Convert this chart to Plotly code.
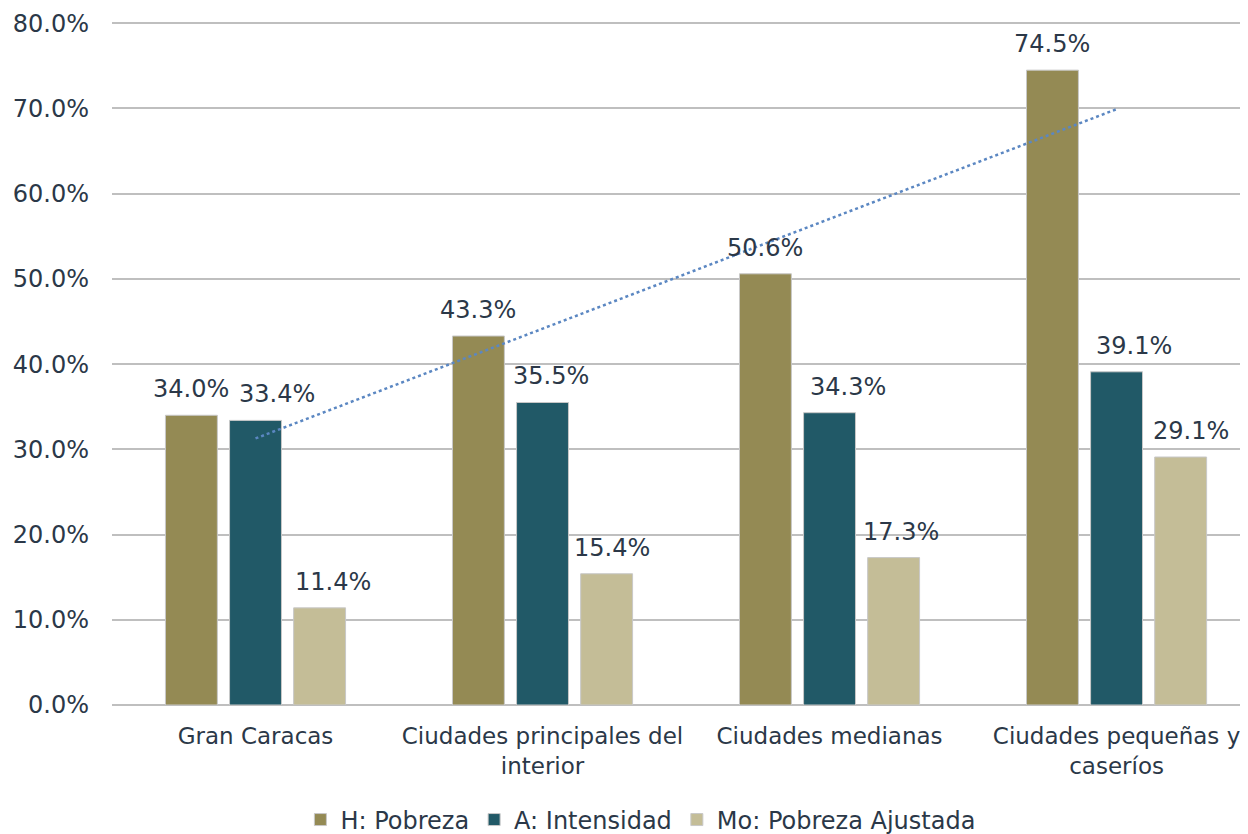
import numpy as np
import plotly.graph_objects as go

categories = ["Gran Caracas", "Ciudades principales del<br>interior", "Ciudades medianas", "Ciudades pequeñas y<br>caseríos"]
h_pobreza = [34.0, 43.3, 50.6, 74.5]
a_intensidad = [33.4, 35.5, 34.3, 39.1]
mo_ajustada = [11.4, 15.4, 17.3, 29.1]
tick_vals = [0, 10, 20, 30, 40, 50, 60, 70, 80]

FONT = "DejaVu Sans"
TXT = "#2b3848"

# style only: horizontal nudges (px) of the data labels, as in the original
label_nudge = {
    "H: Pobreza": [0, 0, 0, 0],
    "A: Intensidad": [21, 8, 18, 17],
    "Mo: Pobreza Ajustada": [13, 5, 7, 10],
}

BARGAP = 0.33
fig = go.Figure()
series = [
    ("H: Pobreza", h_pobreza, "#948a54"),
    ("A: Intensidad", a_intensidad, "#215967"),
    ("Mo: Pobreza Ajustada", mo_ajustada, "#c4bd97"),
]
xi = list(range(len(categories)))
slot = (1 - BARGAP) / len(series)
for k, (name, vals, col) in enumerate(series):
    fig.add_trace(go.Bar(
        x=xi, y=vals, name=name,
        marker=dict(color=col, line=dict(color="#c8c8c8", width=1)),
        hovertemplate="%{y:.1f}%<extra>" + name + "</extra>",
    ))
    off = (k - (len(series) - 1) / 2) * slot
    for i, v in enumerate(vals):
        fig.add_annotation(
            x=i + off, y=v, xref="x", yref="y", text=f"{v:.1f}%",
            showarrow=False, yanchor="bottom", xanchor="center",
            yshift=10, xshift=label_nudge[name][i],
            font=dict(family=FONT, size=24, color=TXT),
        )

# linear trendline of H: Pobreza
coef = np.polyfit(np.arange(len(h_pobreza)), h_pobreza, 1)
trend_y = np.polyval(coef, np.arange(len(h_pobreza)))
fig.add_trace(go.Scatter(
    x=xi, y=trend_y, mode="lines", showlegend=False,
    line=dict(color="#5b87c2", width=2.5, dash="dot"), hoverinfo="skip",
))

fig.update_layout(
    width=1240, height=826,
    margin=dict(l=104, r=0, t=14, b=129),
    plot_bgcolor="white", paper_bgcolor="white",
    barmode="group", bargap=BARGAP, bargroupgap=0.19,
    font=dict(family=FONT, size=23, color=TXT),
    legend=dict(orientation="h", xref="container", yref="container",
                x=0.51, xanchor="center", y=0.017, yanchor="middle",
                font=dict(family=FONT, size=24, color=TXT),
                itemwidth=30, traceorder="normal"),
)
fig.update_xaxes(
    tickvals=xi, ticktext=categories, range=[-0.5, 3.458],
    showgrid=False, zeroline=False, showline=False, ticks="",
    ticklabelstandoff=15, automargin=False,
    tickfont=dict(family=FONT, size=23, color=TXT),
)
fig.update_yaxes(
    range=[0, 80.15], tickvals=tick_vals, ticktext=[f"{v:.1f}%" for v in tick_vals],
    showgrid=True, gridcolor="#bfbfbf", gridwidth=2, zeroline=True,
    zerolinecolor="#bfbfbf", zerolinewidth=2, showline=False, ticks="",
    ticklabelstandoff=22,
    tickfont=dict(family=FONT, size=24, color=TXT), automargin=False,
)
fig.write_html("out.html")
